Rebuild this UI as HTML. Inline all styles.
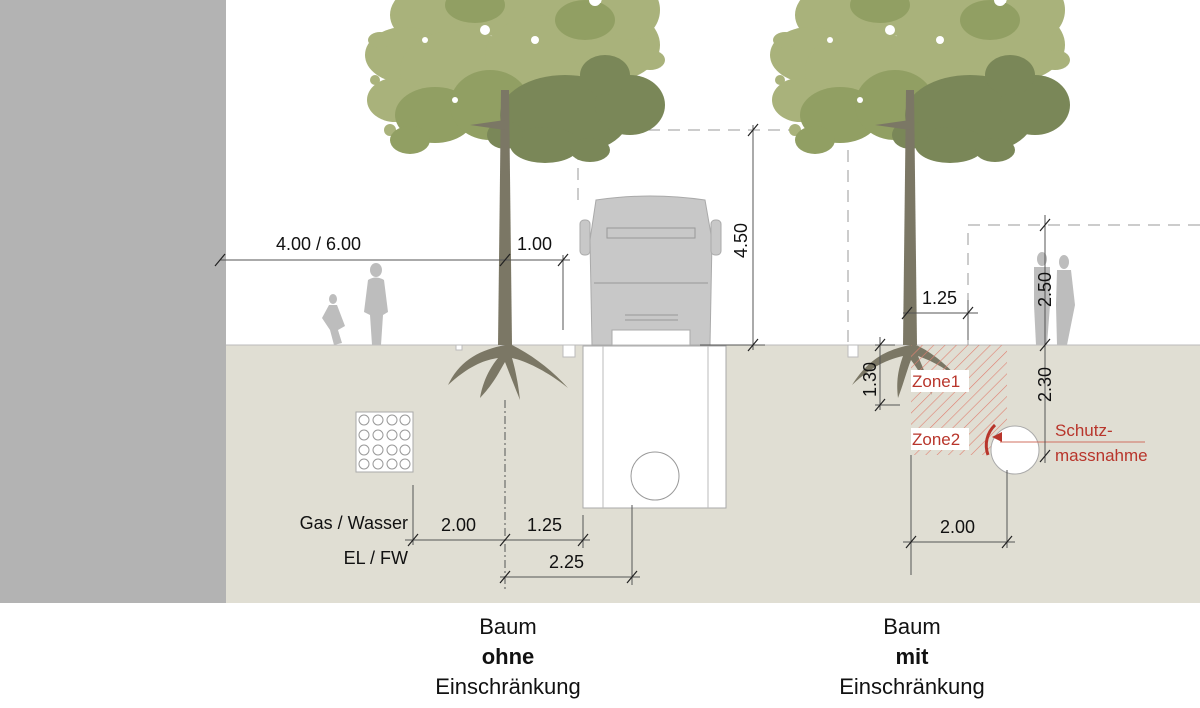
<!DOCTYPE html>
<html><head><meta charset="utf-8"><style>
body{margin:0;width:1200px;height:708px;overflow:hidden;background:#fff;font-family:"Liberation Sans",sans-serif}
svg{position:absolute;left:0;top:0}
.t{font-family:"Liberation Sans",sans-serif;font-size:18px;fill:#111}
.r{font-family:"Liberation Sans",sans-serif;font-size:17px;fill:#b8352b}
.b{font-family:"Liberation Sans",sans-serif;font-size:22px;fill:#111;text-anchor:middle}
</style></head><body>
<svg width="1200" height="708" viewBox="0 0 1200 708">
<defs>
<pattern id="h" width="8" height="8" patternUnits="userSpaceOnUse" patternTransform="rotate(45)">
<line x1="0" y1="0" x2="0" y2="8" stroke="#e08070" stroke-width="1.2"/></pattern>
<g id="can">
<g fill="#a9b27b">
<ellipse cx="-60" cy="15" rx="55" ry="35"/><ellipse cx="20" cy="5" rx="70" ry="35"/>
<ellipse cx="-100" cy="55" rx="40" ry="28"/><ellipse cx="-45" cy="70" rx="60" ry="40"/>
<ellipse cx="40" cy="55" rx="60" ry="40"/><ellipse cx="110" cy="45" rx="45" ry="35"/>
<ellipse cx="-110" cy="100" rx="28" ry="22"/><ellipse cx="125" cy="10" rx="30" ry="30"/>
<ellipse cx="-125" cy="40" rx="12" ry="8"/><ellipse cx="145" cy="60" rx="15" ry="10"/>
<circle cx="-130" cy="80" r="5"/><circle cx="-115" cy="130" r="6"/>
</g>
<g fill="#919f63">
<ellipse cx="-70" cy="115" rx="40" ry="28"/><ellipse cx="-15" cy="105" rx="40" ry="35"/>
<ellipse cx="-30" cy="5" rx="30" ry="18"/><ellipse cx="80" cy="20" rx="30" ry="20"/>
<ellipse cx="-95" cy="140" rx="20" ry="14"/>
</g>
<g fill="#7a8758">
<ellipse cx="60" cy="115" rx="65" ry="40"/><ellipse cx="125" cy="105" rx="35" ry="30"/>
<ellipse cx="40" cy="145" rx="35" ry="18"/><ellipse cx="100" cy="75" rx="25" ry="20"/>
<ellipse cx="85" cy="150" rx="20" ry="12"/><ellipse cx="0" cy="135" rx="18" ry="14"/>
</g>
<g fill="#fff"><circle cx="-20" cy="30" r="5"/><circle cx="30" cy="40" r="4"/><circle cx="90" cy="0" r="6"/><circle cx="-80" cy="40" r="3"/><circle cx="-50" cy="100" r="3"/></g>
</g>
</defs>
<rect x="0" y="0" width="226" height="603" fill="#b3b3b3"/>
<rect x="226" y="345" width="974" height="258" fill="#e0ded3"/>
<line x1="226" y1="345" x2="1200" y2="345" stroke="#bbb" stroke-width="1"/>
<g stroke="#999" stroke-width="1" stroke-dasharray="12,8" fill="none">
<path d="M578 200 V130 H848 V345"/>
<path d="M968 345 V225 H1200"/>
</g>
<use href="#can" transform="translate(505,0)"/>
<use href="#can" transform="translate(910,0)"/>
<g fill="#7b7765">
<path d="M501 90 L509 90 L512 345 L498 345 Z"/>
<path d="M906 90 L914 90 L917 345 L903 345 Z"/>
<path d="M505 120 L470 125 L505 130 Z"/><path d="M910 120 L875 125 L910 130 Z"/>
<path d="M505 345 C480 350 460 360 448 385 C470 365 485 360 498 358 C488 370 482 385 480 398 C495 382 500 370 505 362 C510 375 514 385 520 400 C518 382 515 368 512 358 C530 362 552 375 568 388 C552 370 532 355 512 345 Z"/>
<path d="M910 345 C885 350 868 360 852 385 C870 368 885 360 903 356 C898 370 896 382 898 398 C904 382 907 370 911 360 C920 372 925 382 932 395 C928 378 922 366 918 356 C935 362 948 370 962 382 C948 366 932 352 916 345 Z"/>
</g>
<rect x="911" y="345" width="96" height="110" fill="url(#h)"/>
<rect x="911" y="370" width="58" height="22" fill="#fff"/>
<rect x="911" y="428" width="58" height="22" fill="#fff"/>
<text class="r" x="912" y="387">Zone1</text>
<text class="r" x="912" y="445">Zone2</text>
<g fill="#c8c8c8" stroke="#aaa">
<path d="M596 200 Q650 192 705 200 L712 240 L710 345 L690 345 L690 330 L612 330 L612 345 L592 345 L590 240 Z"/>
<rect x="580" y="220" width="10" height="35" rx="4"/><rect x="711" y="220" width="10" height="35" rx="4"/>
</g>
<g stroke="#999" fill="none"><rect x="607" y="228" width="88" height="10"/><line x1="594" y1="283" x2="708" y2="283"/><line x1="625" y1="315" x2="678" y2="315"/><line x1="625" y1="320" x2="678" y2="320"/></g>
<rect x="583" y="346" width="143" height="162" fill="#fff" stroke="#aaa"/>
<line x1="603" y1="346" x2="603" y2="508" stroke="#bbb"/><line x1="708" y1="346" x2="708" y2="508" stroke="#bbb"/>
<circle cx="655" cy="476" r="24" fill="#fff" stroke="#999"/>
<rect x="563" y="345" width="12" height="12" fill="#fff" stroke="#bbb"/>
<rect x="456" y="345" width="6" height="5" fill="#fff" stroke="#bbb"/>
<rect x="848" y="345" width="10" height="12" fill="#fff" stroke="#bbb"/>
<circle cx="1015" cy="450" r="24" fill="#fff" stroke="#aaa"/>
<path d="M995 425 A28 28 0 0 0 988 455" stroke="#b8352b" stroke-width="3" fill="none"/>
<path d="M992 437 L1002 432 L1002 442 Z" fill="#b8352b"/>
<line x1="1000" y1="442" x2="1145" y2="442" stroke="#d07060"/>
<text class="r" x="1055" y="436">Schutz-</text><text class="r" x="1055" y="461">massnahme</text>
<g fill="#bdbdbd">
<ellipse cx="376" cy="270" rx="6" ry="7"/><path d="M368 280 Q376 275 384 280 L388 312 L383 315 L381 345 L372 345 L370 315 L364 312 Z"/>
<ellipse cx="333" cy="299" rx="4" ry="5"/><path d="M329 305 L337 305 L345 326 L338 330 L342 343 L334 345 L330 330 L322 318 Z"/>
<ellipse cx="1042" cy="259" rx="5" ry="7"/><path d="M1034 267 L1050 267 L1050 305 L1047 345 L1036 345 L1034 305 Z"/>
<ellipse cx="1064" cy="262" rx="5" ry="7"/><path d="M1057 270 L1071 270 L1075 305 L1067 345 L1057 345 L1056 305 Z"/>
</g>
<rect x="356" y="412" width="57" height="60" fill="#fff" stroke="#aaa"/>
<g fill="none" stroke="#999">
<circle cx="364" cy="420" r="5"/><circle cx="378" cy="420" r="5"/><circle cx="392" cy="420" r="5"/><circle cx="405" cy="420" r="5"/>
<circle cx="364" cy="435" r="5"/><circle cx="378" cy="435" r="5"/><circle cx="392" cy="435" r="5"/><circle cx="405" cy="435" r="5"/>
<circle cx="364" cy="450" r="5"/><circle cx="378" cy="450" r="5"/><circle cx="392" cy="450" r="5"/><circle cx="405" cy="450" r="5"/>
<circle cx="364" cy="464" r="5"/><circle cx="378" cy="464" r="5"/><circle cx="392" cy="464" r="5"/><circle cx="405" cy="464" r="5"/>
</g>
<g stroke="#555" stroke-width="1" fill="none">
<line x1="220" y1="260" x2="570" y2="260"/>
<line x1="563" y1="255" x2="563" y2="330"/>
<line x1="753" y1="125" x2="753" y2="350"/><line x1="700" y1="345" x2="765" y2="345"/>
<line x1="505" y1="400" x2="505" y2="590" stroke-dasharray="8,3,2,3"/>
<line x1="413" y1="485" x2="413" y2="545"/>
<line x1="405" y1="540" x2="590" y2="540"/><line x1="583" y1="515" x2="583" y2="548"/>
<line x1="500" y1="577" x2="640" y2="577"/><line x1="632" y1="505" x2="632" y2="585"/>
<line x1="903" y1="313" x2="978" y2="313"/><line x1="968" y1="300" x2="968" y2="340"/>
<line x1="1045" y1="215" x2="1045" y2="463"/>
<line x1="875" y1="345" x2="895" y2="345"/><line x1="880" y1="337" x2="880" y2="410"/><line x1="875" y1="405" x2="900" y2="405"/>
<line x1="911" y1="455" x2="911" y2="575"/><line x1="1007" y1="470" x2="1007" y2="548"/>
<line x1="903" y1="542" x2="1015" y2="542"/>
</g>
<g stroke="#222" stroke-width="1.2">
<line x1="215" y1="266" x2="225" y2="254"/><line x1="500" y1="266" x2="510" y2="254"/><line x1="558" y1="266" x2="568" y2="254"/>
<line x1="748" y1="136" x2="758" y2="124"/><line x1="748" y1="351" x2="758" y2="339"/>
<line x1="408" y1="546" x2="418" y2="534"/><line x1="500" y1="546" x2="510" y2="534"/><line x1="578" y1="546" x2="588" y2="534"/>
<line x1="500" y1="583" x2="510" y2="571"/><line x1="627" y1="583" x2="637" y2="571"/>
<line x1="902" y1="319" x2="912" y2="307"/><line x1="963" y1="319" x2="973" y2="307"/>
<line x1="1040" y1="231" x2="1050" y2="219"/><line x1="1040" y1="351" x2="1050" y2="339"/><line x1="1040" y1="462" x2="1050" y2="450"/>
<line x1="875" y1="351" x2="885" y2="339"/><line x1="875" y1="411" x2="885" y2="399"/>
<line x1="906" y1="548" x2="916" y2="536"/><line x1="1002" y1="548" x2="1012" y2="536"/>
</g>
<text class="t" x="276" y="250">4.00 / 6.00</text>
<text class="t" x="517" y="250">1.00</text>
<text class="t" transform="translate(747,258) rotate(-90)">4.50</text>
<text class="t" x="922" y="304">1.25</text>
<text class="t" transform="translate(1051,307) rotate(-90)">2.50</text>
<text class="t" transform="translate(1051,402) rotate(-90)">2.30</text>
<text class="t" transform="translate(876,397) rotate(-90)">1.30</text>
<text class="t" x="940" y="533">2.00</text>
<text class="t" x="441" y="531">2.00</text>
<text class="t" x="527" y="531">1.25</text>
<text class="t" x="549" y="568">2.25</text>
<text class="t" x="408" y="529" text-anchor="end">Gas / Wasser</text>
<text class="t" x="408" y="564" text-anchor="end">EL / FW</text>
<text class="b" x="508" y="634">Baum</text>
<text class="b" x="508" y="664" font-weight="bold">ohne</text>
<text class="b" x="508" y="694">Einschränkung</text>
<text class="b" x="912" y="634">Baum</text>
<text class="b" x="912" y="664" font-weight="bold">mit</text>
<text class="b" x="912" y="694">Einschränkung</text>
</svg>
</body></html>
